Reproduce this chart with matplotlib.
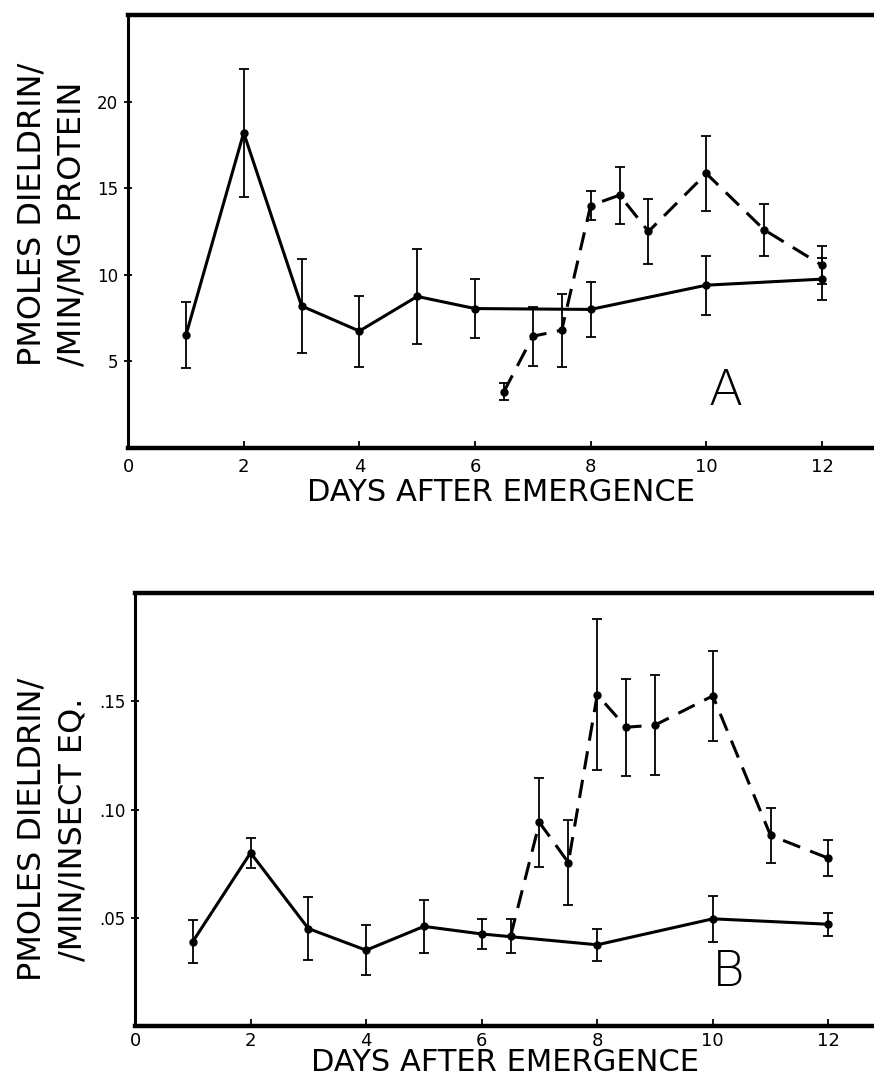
import matplotlib
matplotlib.use("Agg")
import matplotlib.pyplot as plt

# Panel A: pmoles dieldrin / min / mg protein
days_a_solid = [1, 2, 3, 4, 5, 6, 8, 10, 12]
vals_a_solid = [6.5, 18.2, 8.2, 6.75, 8.75, 8.05, 8.0, 9.4, 9.75]
err_a_solid = [1.9, 3.7, 2.7, 2.05, 2.75, 1.7, 1.6, 1.7, 1.2]

days_a_dash = [6.5, 7, 7.5, 8, 8.5, 9, 10, 11, 12]
vals_a_dash = [3.25, 6.45, 6.8, 14.0, 14.6, 12.5, 15.85, 12.6, 10.55]
err_a_dash = [0.5, 1.7, 2.1, 0.85, 1.65, 1.9, 2.15, 1.5, 1.1]

# Panel B: pmoles dieldrin / min / insect eq.
days_b_solid = [1, 2, 3, 4, 5, 6, 8, 10, 12]
vals_b_solid = [0.039, 0.080, 0.045, 0.035, 0.046, 0.0425, 0.0375, 0.0495, 0.047]
err_b_solid = [0.0098, 0.0068, 0.0145, 0.0115, 0.0124, 0.0068, 0.0073, 0.0107, 0.0053]

days_b_dash = [6.5, 7, 7.5, 8, 8.5, 9, 10, 11, 12]
vals_b_dash = [0.0415, 0.094, 0.0755, 0.153, 0.138, 0.139, 0.1525, 0.088, 0.0775]
err_b_dash = [0.0077, 0.0204, 0.0195, 0.0348, 0.0224, 0.0232, 0.0208, 0.0128, 0.0084]

xticks = [0, 2, 4, 6, 8, 10, 12]
yticks_a = [5, 10, 15, 20]
yticks_b = [0.05, 0.10, 0.15]
yticklabels_b = [".05", ".10", ".15"]

fig = plt.figure(figsize=(8.74, 10.81), dpi=100)
ax_a = fig.add_axes([0.1465, 0.5856, 0.8535, 0.4005])
ax_b = fig.add_axes([0.1545, 0.0509, 0.8455, 0.4005])


def draw_series(ax, x, y, e, dashed):
    ls = (0, (6, 3.5)) if dashed else "-"
    ax.errorbar(x, y, yerr=e, fmt="none", ecolor="black", elinewidth=1.3,
                capsize=3.5, capthick=1.3)
    ax.plot(x, y, color="black", linestyle=ls, linewidth=2.2,
            marker="o", markersize=5)


def style_axes(ax, tick_pad, label_pad):
    ax.spines["right"].set_visible(False)
    ax.spines["top"].set_linewidth(3.2)
    ax.spines["bottom"].set_linewidth(3.2)
    ax.spines["left"].set_linewidth(2.2)
    ax.tick_params(axis="x", direction="in", length=5, width=1.3,
                   labelsize=13, pad=tick_pad)
    ax.tick_params(axis="y", direction="inout", length=6, width=1.3,
                   labelsize=12, pad=4)
    ax.set_xticks(xticks)
    ax.set_xticklabels([str(t) for t in xticks])
    ax.set_xlabel("DAYS AFTER EMERGENCE", fontsize=22, labelpad=label_pad)


draw_series(ax_a, days_a_solid, vals_a_solid, err_a_solid, False)
draw_series(ax_a, days_a_dash, vals_a_dash, err_a_dash, True)
ax_a.set_xlim(0, 12.9)
ax_a.set_ylim(0, 25)
ax_a.set_yticks(yticks_a)
style_axes(ax_a, 7, 2)
ax_a.text(-0.102, 0.19, "PMOLES DIELDRIN/\n/MIN/MG PROTEIN", transform=ax_a.transAxes,
          rotation=90, ha="center", va="bottom", multialignment="left",
          fontsize=23, linespacing=1.4)
ax_a.text(10.33, 3.3, "A", fontsize=36, fontweight="ultralight",
          ha="center", va="center")

draw_series(ax_b, days_b_solid, vals_b_solid, err_b_solid, False)
draw_series(ax_b, days_b_dash, vals_b_dash, err_b_dash, True)
ax_b.set_xlim(0, 12.79)
ax_b.set_ylim(0, 0.20)
ax_b.set_yticks(yticks_b)
ax_b.set_yticklabels(yticklabels_b)
style_axes(ax_b, 4, -1)
ax_b.text(-0.112, 0.455, "PMOLES DIELDRIN/\n/MIN/INSECT EQ.", transform=ax_b.transAxes,
          rotation=90, ha="center", va="center", fontsize=23, linespacing=1.4)
ax_b.text(10.26, 0.025, "B", fontsize=36, fontweight="ultralight",
          ha="center", va="center")

fig.savefig("out.png", dpi=100)
